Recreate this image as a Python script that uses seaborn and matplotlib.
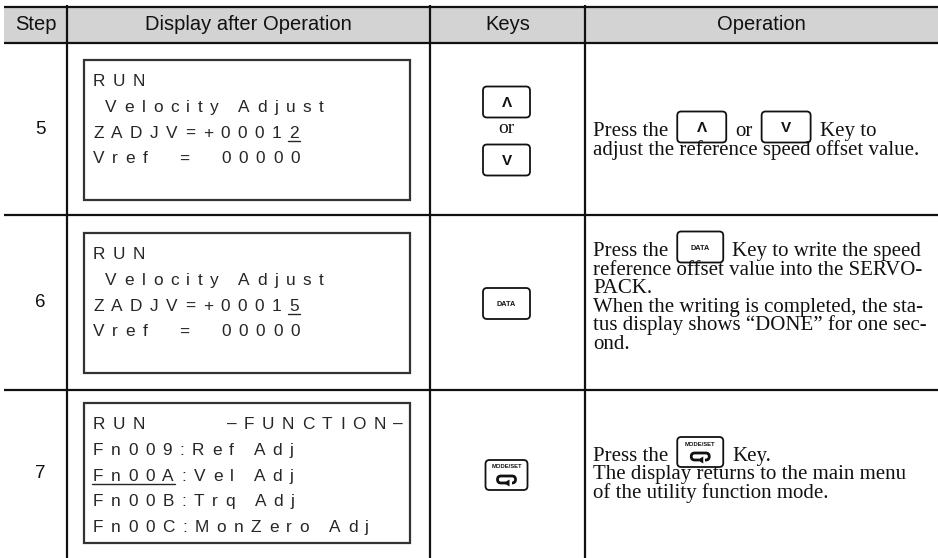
import re
import numpy as np
import matplotlib
matplotlib.use("Agg")
import matplotlib.pyplot as plt
from matplotlib.patches import Rectangle, FancyBboxPatch, Polygon
from matplotlib.font_manager import findfont, FontProperties
import seaborn as sns

# table contents
headers = ["Step", "Display after Operation", "Keys", "Operation"]
steps = ["5", "6", "7"]

lcd_5 = ["RUN", " Velocity Adjust", "ZADJV=+00012", "Vref  =  00000"]
lcd_6 = ["RUN", " Velocity Adjust", "ZADJV=+00015", "Vref  =  00000"]
lcd_7 = ["RUN      \u2013FUNCTION\u2013", "Fn009:Ref Adj", "Fn00A:Vel Adj",
         "Fn00B:Trq Adj", "Fn00C:MonZero Adj"]
# (line, first char, last char + 1) of the underlined cursor
under_5 = (2, 11, 12)
under_6 = (2, 11, 12)
under_7 = (2, 0, 5)

keys_5 = ["up", "or", "down"]
keys_6 = ["data"]
keys_7 = ["mode"]

op_5 = ["Press the {up} or {down} Key to",
        "adjust the reference speed offset value."]
op_6 = ["Press the {data} Key to write the speed",
        "reference offset value into the SERVO-",
        "PACK.",
        "When the writing is completed, the sta-",
        "tus display shows \u201cDONE\u201d for one sec-",
        "ond."]
op_7 = ["Press the {mode} Key.",
        "The display returns to the main menu",
        "of the utility function mode."]

lcd_text = [lcd_5, lcd_6, lcd_7]
lcd_under = [under_5, under_6, under_7]
key_cells = [keys_5, keys_6, keys_7]
op_text = [op_5, op_6, op_7]

# layout (pixels)
W, H = 938, 558
col_x = [4, 67, 430, 585, W]
row_y = [7, 43, 215, 390, H]
lcd_top = [60, 233, 403]
op_base = [136, 256, 461]
op_pitch = [19, 18.6, 18.4]

sns.set_theme(style="white")
plt.rcParams["font.family"] = ["Liberation Sans", "DejaVu Sans"]

fig, ax = plt.subplots(figsize=(W / 100, H / 100), dpi=100)
fig.subplots_adjust(0, 0, 1, 1)
ax.set_xlim(0, W)
ax.set_ylim(H, 0)
ax.axis("off")
renderer = fig.canvas.get_renderer()

ink = "#111111"
lcd_ink = "#262626"
lcd_px = 17.3
lcd_pt = lcd_px * 0.72
lcd_gap = 7.5
op_pt = 15

try:
    from matplotlib.ft2font import FT2Font
    _ft = FT2Font(findfont(FontProperties(family="Liberation Sans")))
    _ft.set_size(100, 72)

    def advance(c):
        return _ft.load_char(ord(c)).linearHoriAdvance / 65536 / 100
except Exception:
    def advance(c):
        return 0.28 if c == " " else 0.6

# header band and grid
ax.add_patch(Rectangle((col_x[0], row_y[0]), W - col_x[0], row_y[1] - row_y[0],
                       facecolor="#d3d3d3", edgecolor="none", zorder=0))
for y in row_y[:-1]:
    ax.plot([col_x[0], W], [y, y], color=ink, lw=1.6, solid_capstyle="butt")
for x in col_x[1:-1]:
    ax.plot([x, x], [row_y[0] - 2, H], color=ink, lw=1.6, solid_capstyle="butt")

centers = [(a + b) / 2 for a, b in zip(col_x[:-1], col_x[1:])]
for cx, h in zip(centers, headers):
    ax.text(cx, 25, h, ha="center", va="center", fontsize=14.5, color=ink)


def draw_key(cx, cy, kind, w=None):
    if kind == "mode":
        w, h = w or 42, 30
    else:
        w, h = w or 47, 31
    ax.add_patch(FancyBboxPatch((cx - w / 2, cy - h / 2), w, h,
                                boxstyle="round,pad=0,rounding_size=4",
                                facecolor="white", edgecolor=ink, lw=1.3, zorder=3))
    if kind == "up":
        ax.text(cx, cy + 1, "\u039b", ha="center", va="center", fontsize=11,
                fontweight="bold", color=ink, zorder=4)
    elif kind == "down":
        ax.text(cx, cy + 1, "V", ha="center", va="center", fontsize=11,
                fontweight="bold", color=ink, zorder=4)
    elif kind == "data":
        ax.text(cx, cy + 1, "DATA", ha="center", va="center", fontsize=5.2,
                fontweight="bold", color=ink, zorder=4)
    elif kind == "mode":
        ax.text(cx, cy - 8, "MODE/SET", ha="center", va="center", fontsize=4.2,
                fontweight="bold", color=ink, zorder=4)
        ax.add_patch(FancyBboxPatch((cx - 9, cy + 1), 18, 7,
                                    boxstyle="round,pad=0,rounding_size=3.5",
                                    facecolor="none", edgecolor=ink, lw=2.0, zorder=4))
        ax.add_patch(Rectangle((cx - 1, cy + 6), 6, 4, facecolor="white",
                               edgecolor="none", zorder=5))
        ax.add_patch(Polygon([[cx - 3, cy + 8], [cx + 3, cy + 4.5], [cx + 3, cy + 11.5]],
                             closed=True, facecolor=ink, edgecolor="none", zorder=6))
    return w


def lcd_line(x0, y, s, under=None):
    x = x0
    spans = []
    for ch in s:
        if ch != " ":
            ax.text(x, y, ch, fontsize=lcd_pt, color=lcd_ink, ha="left",
                    va="baseline", family="Liberation Sans")
        w = advance(ch) * lcd_px
        spans.append((x, x + w))
        x += w + lcd_gap
    if under is not None:
        a, b = under
        ax.plot([spans[a][0] - 1, spans[b - 1][1] + 1], [y + 3, y + 3],
                color=lcd_ink, lw=1.0)


def op_line(x, y, line):
    for part in re.split(r"(\{\w+\})", line):
        part = part.strip()
        if not part:
            continue
        if part.startswith("{"):
            kind = part[1:-1]
            kw = 49 if kind in ("up", "down") else 46
            x += 9
            draw_key(x + kw / 2, y - 9, kind, w=kw)
            x += kw + 9
        else:
            t = ax.text(x, y, part, ha="left", va="baseline", fontsize=op_pt,
                        family="Liberation Serif", color=ink)
            x += t.get_window_extent(renderer=renderer).width


for i in range(len(steps)):
    top, bot = row_y[i + 1], row_y[i + 2]
    mid = (top + bot) / 2

    ax.text(40, mid, steps[i], ha="center", va="center", fontsize=13.5, color=ink)

    # LCD panel
    bt = lcd_top[i]
    ax.add_patch(Rectangle((84, bt), 326, 140, facecolor="white",
                           edgecolor="#333333", lw=1.6, zorder=1))
    ln, a, b = lcd_under[i]
    for j, s in enumerate(lcd_text[i]):
        lcd_line(93, bt + 26 + j * 25.8, s, (a, b) if j == ln else None)

    # keys column
    kx = centers[2] - 1
    if key_cells[i] == ["up", "or", "down"]:
        draw_key(kx, mid - 27, "up")
        ax.text(kx, mid + 4, "or", ha="center", va="baseline", fontsize=14,
                family="Liberation Serif", color=ink)
        draw_key(kx, mid + 31, "down")
    else:
        draw_key(kx, mid + 1, key_cells[i][0])

    # operation column
    for j, line in enumerate(op_text[i]):
        op_line(593, op_base[i] + j * op_pitch[i], line)

fig.savefig("out.png", dpi=100)
